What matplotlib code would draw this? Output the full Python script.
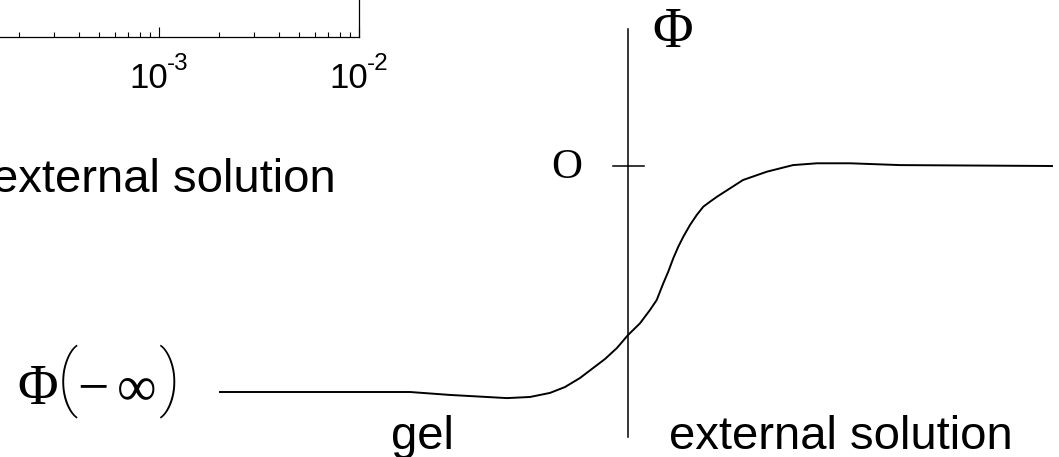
import matplotlib
matplotlib.use("Agg")
import matplotlib.pyplot as plt
from matplotlib.transforms import offset_copy

# potential profile across the gel / external solution interface
position = [-4.08, -2.18, -1.78, -1.21, -0.98, -0.78, -0.63, -0.48, -0.23, -0.11, 0.0,
            0.12, 0.22, 0.287, 0.353, 0.403, 0.453, 0.503, 0.553, 0.62, 0.687, 0.753,
            0.82, 0.89, 1.15, 1.39, 1.65, 1.89, 2.22, 2.72, 4.24]
potential = [-1.0, -1.0, -1.013, -1.027, -1.022, -1.004, -0.978, -0.938, -0.854, -0.805,
             -0.748, -0.696, -0.637, -0.593, -0.519, -0.467, -0.408, -0.357, -0.313,
             -0.261, -0.217, -0.180, -0.158, -0.136, -0.062, -0.025, 0.004, 0.012,
             0.012, 0.004, 0.0]

# log axis fragment in the upper left corner
log_ticks = [1e-4, 1e-3, 1e-2]
log_exponents = ["-4", "-3", "-2"]

serif = ["Liberation Serif", "DejaVu Serif"]
sans = ["Liberation Sans", "DejaVu Sans"]
thin = ["Roboto", "Liberation Serif"]

fig = plt.figure(figsize=(10.59, 4.57), dpi=100)

# ---- sketch of the potential ----
ax = fig.add_axes([0, 0, 1, 1])
ax.set_xlim(-6.28, 4.31)
ax.set_ylim(-1.2876, 0.7345)
ax.axis("off")

ax.plot(position, potential, color="black", linewidth=1.4, solid_joinstyle="round")
ax.plot([0, 0], [0.606, -1.199], color="black", linewidth=1.1)
ax.plot([-0.15, 0.16], [0, 0], color="black", linewidth=1.1)

ax.text(0.45, 0.527, "Φ", family=serif, fontsize=40, ha="center", va="baseline")
ax.text(-0.615, -0.053, "O", family=serif, fontsize=31, ha="center", va="baseline")

# Phi(-inf) label built from pieces so the brackets can be taller
ax.text(-5.905, -1.053, "Φ", family=serif, fontsize=40, ha="center", va="baseline")
ax.text(-5.61, -1.045, "(", family=thin, fontsize=52, ha="center", va="baseline",
        fontweight=200)
ax.text(-5.35, -1.053, "\u2212", family=serif, fontsize=40, ha="center", va="baseline")
ax.text(-4.915, -1.053, "\u221e", family=serif, fontsize=40, ha="center", va="baseline")
ax.text(-4.58, -1.045, ")", family=thin, fontsize=52, ha="center", va="baseline",
        fontweight=200)

ax.text(-2.06, -1.252, "gel", family=sans, fontsize=34, ha="center", va="baseline")
ax.text(2.125, -1.252, "external solution", family=sans, fontsize=34,
        ha="center", va="baseline")
ax.text(-2.92, -0.115, "external solution", family=sans, fontsize=34,
        ha="right", va="baseline")

# ---- log axis ----
ax2 = fig.add_axes([-41 / 1059, 420 / 457, 400 / 1059, 300 / 457])
ax2.set_xscale("log")
ax2.set_xlim(log_ticks[0], log_ticks[-1])
ax2.set_yticks([])
ax2.patch.set_alpha(0)
for side in ["top", "left", "right", "bottom"]:
    ax2.spines[side].set_linewidth(0.9)
ax2.tick_params(which="both", direction="in", width=0.8, labelbottom=False,
                top=False, left=False, right=False)
ax2.tick_params(which="major", length=7)
ax2.tick_params(which="minor", length=3.6)

tr = ax2.get_xaxis_transform()
base_tr = offset_copy(tr, fig=fig, x=9, y=-51, units="dots")
exp_tr = offset_copy(tr, fig=fig, x=8, y=-33, units="dots")
for v, e in zip(log_ticks, log_exponents):
    ax2.text(v, 0, "10", transform=base_tr, family=sans, fontsize=25,
             ha="right", va="baseline", clip_on=False)
    ax2.text(v, 0, e, transform=exp_tr, family=sans, fontsize=17.5,
             ha="left", va="baseline", clip_on=False)

fig.savefig("out.png", dpi=100)
